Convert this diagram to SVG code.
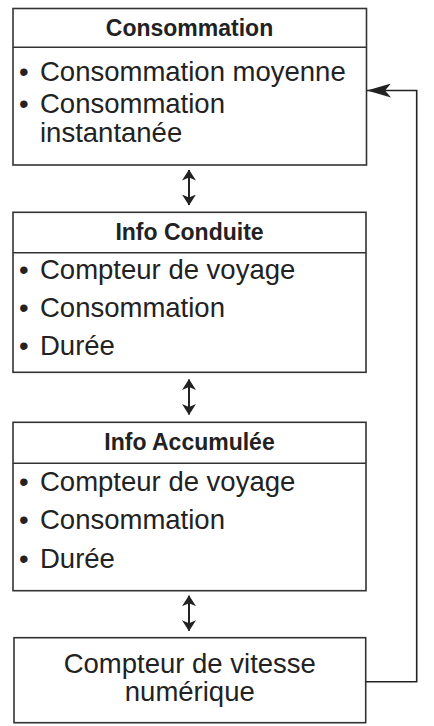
<svg xmlns="http://www.w3.org/2000/svg" width="434" height="726" viewBox="0 0 434 726">
<style>
.box{fill:#fff;stroke:#333;stroke-width:1.6}
.sep{stroke:#333;stroke-width:1.6}
.t{font-family:"Liberation Sans",Arial,sans-serif;font-size:27.5px;fill:#222}
.h{font-family:"Liberation Sans",Arial,sans-serif;font-size:23px;font-weight:bold;fill:#222;text-anchor:middle}
.c{text-anchor:middle}
.ln{fill:none;stroke:#222;stroke-width:1.6}
.v{fill:none;stroke:#222;stroke-width:2}
</style>
<defs>
<marker id="ah" viewBox="0 0 11 14" refX="10.5" refY="7" markerWidth="11" markerHeight="14" markerUnits="userSpaceOnUse" orient="auto-start-reverse">
<path d="M0,0 L11,7 L0,14 L3,7 Z" fill="#222"/>
</marker>
<marker id="big" viewBox="0 0 24 14" refX="24" refY="7" markerWidth="24" markerHeight="14" markerUnits="userSpaceOnUse" orient="auto">
<path d="M0,0 L24,7 L0,14 L6,7 Z" fill="#222"/>
</marker>
</defs>
<g id="n1">
<rect class="box" x="13" y="8.5" width="353.5" height="156.5"/>
<line class="sep" x1="13" y1="47.3" x2="366.5" y2="47.3"/>
<text class="h" x="189.5" y="36">Consommation</text>
<text class="t"><tspan x="19" y="81">•</tspan><tspan x="40" y="81">Consommation moyenne</tspan></text>
<text class="t"><tspan x="19" y="113">•</tspan><tspan x="40" y="113">Consommation</tspan></text>
<text class="t" x="40" y="141.5">instantanée</text>
</g>
<g id="n2">
<rect class="box" x="13" y="212.3" width="353" height="160"/>
<line class="sep" x1="13" y1="252.7" x2="366" y2="252.7"/>
<text class="h" x="189.5" y="240">Info Conduite</text>
<text class="t"><tspan x="19" y="278.5">•</tspan><tspan x="40" y="278.5">Compteur de voyage</tspan></text>
<text class="t"><tspan x="19" y="316.7">•</tspan><tspan x="40" y="316.7">Consommation</tspan></text>
<text class="t"><tspan x="19" y="355">•</tspan><tspan x="40" y="355">Durée</tspan></text>
</g>
<g id="n3">
<rect class="box" x="13" y="422.3" width="353" height="168.4"/>
<line class="sep" x1="13" y1="463.3" x2="366" y2="463.3"/>
<text class="h" x="189.5" y="450">Info Accumulée</text>
<text class="t"><tspan x="19" y="490.7">•</tspan><tspan x="40" y="490.7">Compteur de voyage</tspan></text>
<text class="t"><tspan x="19" y="529.3">•</tspan><tspan x="40" y="529.3">Consommation</tspan></text>
<text class="t"><tspan x="19" y="568.3">•</tspan><tspan x="40" y="568.3">Durée</tspan></text>
</g>
<g id="n4">
<rect class="box" x="14" y="637.7" width="351.7" height="85"/>
<text class="t c" x="189.8" y="673.3">Compteur de vitesse</text>
<text class="t c" x="189.8" y="701">numérique</text>
</g>
<g id="connectors">
<line class="v" x1="189" y1="170" x2="189" y2="205" marker-start="url(#ah)" marker-end="url(#ah)"/>
<line class="v" x1="189" y1="379.5" x2="189" y2="414.5" marker-start="url(#ah)" marker-end="url(#ah)"/>
<line class="v" x1="189" y1="595.7" x2="189" y2="630.7" marker-start="url(#ah)" marker-end="url(#ah)"/>
<polyline class="ln" points="365.7,681.7 416.7,681.7 416.7,90.5 367,90.5" marker-end="url(#big)"/>
</g>
</svg>
